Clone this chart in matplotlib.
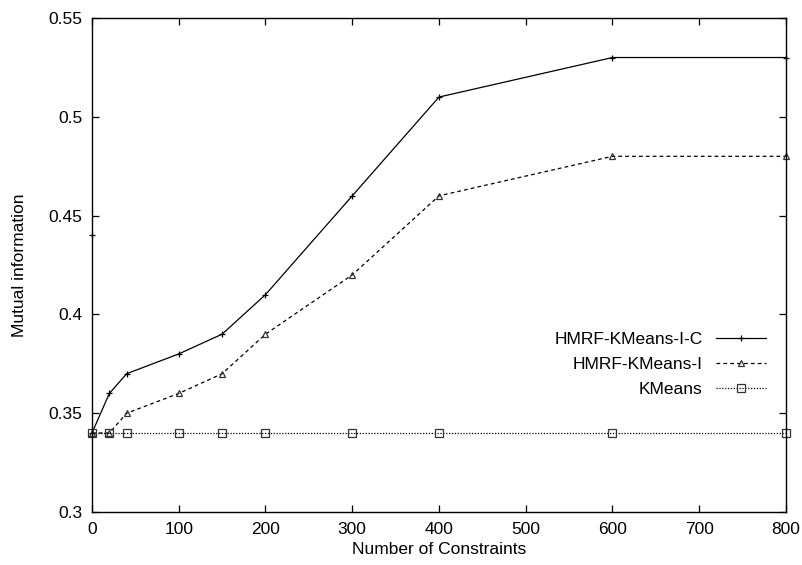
import matplotlib
matplotlib.use("Agg")
import matplotlib.pyplot as plt

# data
constraints = [0, 20, 40, 100, 150, 200, 300, 400, 600, 800]
mi_ic = [0.34, 0.36, 0.37, 0.38, 0.39, 0.41, 0.46, 0.51, 0.53, 0.53]
mi_i = [0.34, 0.34, 0.35, 0.36, 0.37, 0.39, 0.42, 0.46, 0.48, 0.48]
mi_kmeans = [0.34, 0.34, 0.34, 0.34, 0.34, 0.34, 0.34, 0.34, 0.34, 0.34]
stray_x = [0]
stray_y = [0.44]

x_ticks = [0, 100, 200, 300, 400, 500, 600, 700, 800]
y_ticks = [0.3, 0.35, 0.4, 0.45, 0.5, 0.55]
y_labels = ["0.3", "0.35", "0.4", "0.45", "0.5", "0.55"]

plt.rcParams["font.family"] = ["Liberation Sans", "DejaVu Sans"]
plt.rcParams["font.size"] = 12.5

fig = plt.figure(figsize=(8.03, 5.65), dpi=100)
ax = fig.add_axes([92 / 803, 1 - 512 / 565, 694 / 803, 494 / 565])

ax.plot(constraints, mi_ic, color="black", linestyle="-", linewidth=0.9,
        marker="+", markersize=5, markeredgewidth=0.9,
        label="HMRF-KMeans-I-C", clip_on=False)
ax.plot(constraints, mi_i, color="black", linestyle=(0, (3, 2.5)), linewidth=0.9,
        marker="^", markersize=5, markerfacecolor="none", markeredgewidth=0.9,
        markeredgecolor="#333333", label="HMRF-KMeans-I", clip_on=False)
ax.plot(constraints, mi_kmeans, color="black", linestyle=(0, (1, 1.3)), linewidth=0.9,
        marker="s", markersize=5.5, markerfacecolor="none", markeredgewidth=0.9,
        markeredgecolor="#333333", label="KMeans", clip_on=False)
ax.plot(stray_x, stray_y, linestyle="none", color="black", marker="+",
        markersize=5, markeredgewidth=0.9, clip_on=False)

ax.set_xlim(0, 800)
ax.set_ylim(0.3, 0.55)
ax.set_xticks(x_ticks)
ax.set_yticks(y_ticks)
ax.set_yticklabels(y_labels)
ax.tick_params(direction="in", length=5, width=0.9, top=True, right=True,
               labelsize=12.5, pad=7)
for s in ax.spines.values():
    s.set_linewidth(1.0)

ax.set_xlabel("Number of Constraints", fontsize=12.5, labelpad=4)
ax.set_ylabel("Mutual information", fontsize=12.5, labelpad=15)

leg = ax.legend(loc="upper right", bbox_to_anchor=(0.971, 0.365), frameon=False,
                markerfirst=False, handlelength=2.9, handletextpad=0.75,
                labelspacing=0.58, borderpad=0, borderaxespad=0, fontsize=12.5)
for t in leg.get_texts():
    t.set_ha("right")
leg._legend_box.align = "right"

fig.savefig("out.png", dpi=100)
